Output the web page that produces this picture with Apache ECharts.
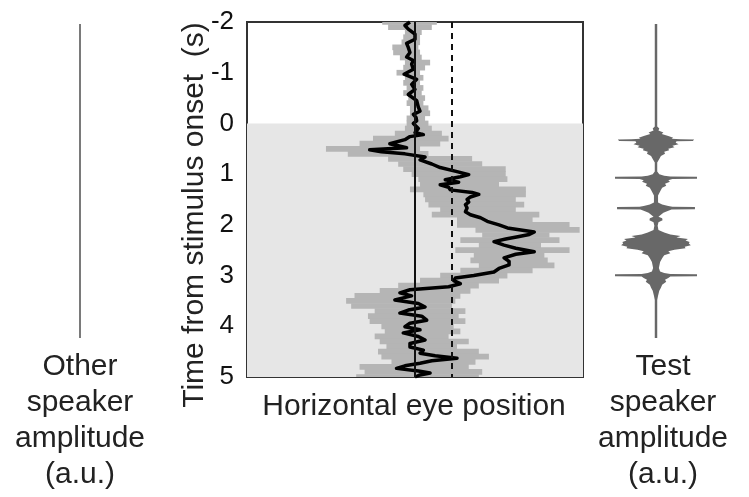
<!DOCTYPE html>
<html>
<head>
<meta charset="utf-8">
<script src="https://cdn.jsdelivr.net/npm/echarts@6/dist/echarts.min.js"></script>
<style>
  html, body { margin: 0; padding: 0; background: #fff; }
  #chart { width: 749px; height: 497px; }
</style>
</head>
<body>
<div id="chart"></div>
<script>
// time axis (s), ticks -2..5
const yTicks = [-2, -1, 0, 1, 2, 3, 4, 5];
const stimulusOnset = 0;
const centerX = 0;    // straight ahead
const speakerX = 2.2; // test speaker position

// mean eye trace
const traceTime = [-2.00, -1.93, -1.86, -1.76, -1.66, -1.58, -1.50, -1.40, -1.31, -1.24, -1.17, -1.07, -0.97, -0.87, -0.77, -0.67, -0.57, -0.45, -0.32, -0.24, -0.18, -0.12, -0.05, 0.00,
  0.10, 0.18, 0.22, 0.26, 0.32, 0.40, 0.48, 0.52, 0.56, 0.60, 0.66, 0.72, 0.80, 0.87, 0.95, 1.01, 1.05, 1.11, 1.16, 1.21, 1.26, 1.31, 1.36, 1.40, 1.45, 1.50, 1.55, 1.60, 1.67, 1.74, 1.80, 1.86, 1.93,
  2.00, 2.06, 2.14, 2.19, 2.23, 2.28, 2.33, 2.40, 2.46, 2.53, 2.58, 2.65, 2.72, 2.79, 2.86, 2.93, 3.00, 3.05, 3.10, 3.16, 3.22, 3.28, 3.34, 3.40, 3.48, 3.55, 3.62, 3.68, 3.74, 3.80, 3.88, 3.94,
  4.01, 4.07, 4.13, 4.20, 4.27, 4.34, 4.41, 4.47, 4.53, 4.58, 4.63, 4.68, 4.73, 4.78, 4.83, 4.88, 4.92, 4.96, 5.00];
const traceX = [-0.3, -0.6, -0.4, 0.0, 0.0, -0.5, -0.4, -0.3, -0.5, -0.1, -0.2, -0.1, -0.65, 0.1, -0.2, 0.0, -0.4, 0.1, 0.2, 0.3, -0.1, 0.06, 0.1, -0.1,
  0.2, 0.0, 0.5, -0.3, -0.6, -1.5, -0.5, -2.7, -2.0, -0.6, 0.6, 0.3, 1.0, 1.5, 2.5, 3.2, 2.7, 1.8, 2.6, 1.5, 2.0, 2.1, 3.4, 3.8, 3.3, 3.1, 3.2, 3.0, 3.1, 3.0, 3.3, 3.9, 4.3,
  5.0, 5.5, 7.1, 6.8, 6.2, 5.4, 4.7, 5.3, 6.0, 7.1, 6.0, 5.3, 5.6, 5.6, 5.0, 4.7, 3.5, 2.4, 2.3, 2.7, 2.0, -0.3, -0.9, -0.2, -1.2, 0.2, 0.6, -0.4, -0.9, 0.4, 0.7, -0.3,
  -0.6, 0.3, -0.7, 0.2, 0.6, -0.3, -0.3, 0.5, 0.3, 1.2, 2.5, 1.0, 0.3, -0.6, -1.1, 0.2, 0.9, 0.3, 0.0];

// variability band (lower / upper edge), 0.1 s bins
const bandTime = [-2.0, -1.9, -1.8, -1.7, -1.6, -1.5, -1.4, -1.3, -1.2, -1.1, -1.0, -0.9, -0.8, -0.7, -0.6, -0.5, -0.4, -0.3, -0.2, -0.1,
  0.0, 0.1, 0.2, 0.3, 0.4, 0.5, 0.6, 0.7, 0.8, 0.9, 1.0, 1.1, 1.2, 1.3, 1.4, 1.5, 1.6, 1.7, 1.8, 1.9,
  2.0, 2.1, 2.2, 2.3, 2.4, 2.5, 2.6, 2.7, 2.8, 2.9, 3.0, 3.1, 3.2, 3.3, 3.4, 3.5, 3.6, 3.7, 3.8, 3.9,
  4.0, 4.1, 4.2, 4.3, 4.4, 4.5, 4.6, 4.7, 4.8, 4.9, 5.0];
const bandLo = [-1.95, -1.6, -0.6, -0.7, -0.8, -1.35, -1.3, -0.9, -0.6, -0.7, -1.1, -0.6, -0.7, -0.5, -0.7, -0.4, -0.5, -0.3, -0.3, -0.5,
  -0.5, -0.6, -1.2, -2.5, -3.3, -5.3, -4.0, -1.6, -1.0, -0.7, -0.2, 0.2, 0.3, -0.3, 0.5, 0.6, 0.8, 1.5, 1.0, 2.5,
  2.5, 3.6, 4.0, 2.7, 3.8, 2.4, 3.5, 3.3, 3.8, 2.7, 1.5, 0.3, -1.0, -2.1, -3.6, -4.1, -3.8, -2.4, -2.8, -2.7,
  -2.0, -1.8, -2.4, -2.1, -1.7, -2.2, -2.0, -1.4, -3.3, -3.0, -3.5];
const bandHi = [1.3, 1.0, 0.4, 0.3, 0.3, 0.2, 0.3, 0.4, 0.9, 0.6, 0.3, 0.5, 0.3, 0.5, 0.4, 0.6, 0.5, 0.8, 0.9, 0.6,
  0.8, 1.0, 1.6, 2.0, 1.5, 0.3, 0.8, 3.4, 4.0, 5.4, 5.4, 5.5, 5.0, 6.6, 6.6, 6.0, 6.5, 6.0, 7.4, 7.0,
  9.2, 9.8, 8.0, 8.6, 7.5, 9.2, 7.7, 7.9, 8.3, 7.0, 5.5, 5.0, 3.8, 3.3, 2.7, 2.4, 2.2, 3.0, 2.6, 3.0,
  2.3, 2.7, 2.0, 3.2, 2.5, 3.8, 4.4, 3.6, 3.2, 4.0, 3.8];

// other speaker: silent
const otherTime = [-1.96, 4.23];
const otherAmp = [0, 0];

// test speaker envelope (a.u.)
const waveTime = [-1.96,
  0.06, 0.10, 0.14, 0.18, 0.21, 0.25, 0.28, 0.30, 0.31, 0.315, 0.345, 0.35, 0.38, 0.41, 0.44, 0.47, 0.50, 0.53, 0.56, 0.60, 0.64, 0.70, 0.77,
  0.95, 1.00, 1.03, 1.045, 1.05, 1.09, 1.095, 1.12, 1.15, 1.19, 1.23, 1.27, 1.34, 1.42,
  1.56, 1.60, 1.63, 1.645, 1.65, 1.69, 1.695, 1.72, 1.76, 1.80, 1.84, 1.87, 1.91, 1.95, 2.02,
  2.10, 2.15, 2.19, 2.22, 2.25, 2.28, 2.31, 2.34, 2.37, 2.40, 2.43, 2.46, 2.49, 2.52, 2.56, 2.60, 2.66, 2.73, 2.85,
  2.92, 2.95, 2.97, 2.975, 3.015, 3.02, 3.05, 3.08, 3.12, 3.18, 3.24, 3.30, 3.40, 3.48, 4.23];
const waveAmp = [0.03,
  0.03, 0.08, 0.06, 0.18, 0.14, 0.3, 0.42, 0.38, 0.6, 0.93, 0.9, 0.5, 0.48, 0.55, 0.4, 0.45, 0.3, 0.32, 0.2, 0.22, 0.12, 0.08, 0.03,
  0.03, 0.08, 0.2, 0.35, 1.0, 1.0, 0.4, 0.3, 0.34, 0.22, 0.25, 0.15, 0.1, 0.05,
  0.05, 0.15, 0.3, 0.4, 0.95, 0.95, 0.38, 0.3, 0.18, 0.12, 0.06, 0.15, 0.16, 0.06, 0.04,
  0.06, 0.2, 0.35, 0.6, 0.5, 0.78, 0.72, 0.82, 0.8, 0.85, 0.7, 0.72, 0.45, 0.3, 0.35, 0.2, 0.15, 0.1, 0.07,
  0.1, 0.2, 0.35, 1.0, 1.0, 0.35, 0.3, 0.22, 0.25, 0.15, 0.12, 0.08, 0.05, 0.03, 0.03];

const font = "'Liberation Sans', Arial, sans-serif";
const chart = echarts.init(document.getElementById('chart'));

const timeAxis = (gridIndex, show) => ({
  type: 'value', gridIndex: gridIndex, inverse: true, min: -2, max: 5, interval: 1,
  show: show,
  axisLine: { show: false },
  axisTick: { show: show, inside: true, length: 5, lineStyle: { color: '#333', width: 1.5 } },
  axisLabel: { show: show, fontSize: 26, color: '#111', margin: 13, fontFamily: font },
  splitLine: { show: false }
});
const hiddenX = (gridIndex, lo, hi) => ({
  type: 'value', gridIndex: gridIndex, min: lo, max: hi, show: false, splitLine: { show: false }
});

const option = {
  animation: false,
  backgroundColor: '#fff',
  grid: [
    { left: 247, top: 22, width: 336, height: 355, show: true, borderColor: '#333', borderWidth: 2, backgroundColor: '#fff' },
    { left: 60, top: 22, width: 40, height: 355 },
    { left: 615, top: 22, width: 82, height: 355 }
  ],
  xAxis: [hiddenX(0, -10, 10), hiddenX(1, -1, 1), hiddenX(2, -1, 1)],
  yAxis: [timeAxis(0, true), timeAxis(1, false), timeAxis(2, false)],
  series: [
    {
      // post-onset shading
      type: 'line', xAxisIndex: 0, yAxisIndex: 0, data: [], z: 1,
      markArea: {
        silent: true,
        itemStyle: { color: '#e6e6e6' },
        data: [[{ yAxis: stimulusOnset }, { yAxis: yTicks[yTicks.length - 1] }]]
      }
    },
    {
      type: 'custom', xAxisIndex: 0, yAxisIndex: 0, z: 2, clip: true,
      data: bandTime.map((t, i) => [t, bandLo[i], bandHi[i]]),
      encode: { x: [1, 2], y: 0 },
      renderItem: function (params, api) {
        const t = api.value(0);
        const p1 = api.coord([api.value(1), t - 0.056]);
        const p2 = api.coord([api.value(2), t + 0.056]);
        return {
          type: 'rect',
          shape: {
            x: Math.min(p1[0], p2[0]), y: Math.min(p1[1], p2[1]),
            width: Math.abs(p2[0] - p1[0]), height: Math.abs(p2[1] - p1[1])
          },
          style: { fill: '#b5b5b5' }
        };
      }
    },
    {
      type: 'line', xAxisIndex: 0, yAxisIndex: 0, z: 4,
      data: traceTime.map((t, i) => [traceX[i], t]),
      showSymbol: false,
      lineStyle: { color: '#000', width: 3.5, join: 'round' },
      markLine: {
        silent: true, symbol: 'none', label: { show: false },
        data: [
          { xAxis: centerX, lineStyle: { color: '#111', width: 2, type: 'solid' } },
          { xAxis: speakerX, lineStyle: { color: '#111', width: 2, type: [6, 5] } }
        ]
      }
    },
    {
      type: 'line', xAxisIndex: 1, yAxisIndex: 1,
      data: otherTime.map((t, i) => [otherAmp[i], t]),
      showSymbol: false,
      lineStyle: { color: '#7a7a7a', width: 2 }
    },
    {
      type: 'custom', xAxisIndex: 2, yAxisIndex: 2,
      data: [0],
      renderItem: function (params, api) {
        const right = waveTime.map((t, i) => api.coord([waveAmp[i], t]));
        const left = waveTime.map((t, i) => api.coord([-waveAmp[i], t])).reverse();
        return {
          type: 'polygon',
          shape: { points: right.concat(left) },
          style: { fill: '#686868' }
        };
      }
    }
  ],
  graphic: [
    {
      type: 'text', x: 195, y: 215, rotation: Math.PI / 2,
      style: { text: 'Time from stimulus onset  (s)', font: '30px ' + font, fill: '#222', textAlign: 'center', textVerticalAlign: 'middle' }
    },
    {
      type: 'text', x: 414, y: 407,
      style: { text: 'Horizontal eye position', font: '30px ' + font, fill: '#222', textAlign: 'center', textVerticalAlign: 'middle' }
    },
    {
      type: 'text', x: 80, y: 349,
      style: { text: 'Other\nspeaker\namplitude\n(a.u.)', font: '30px ' + font, lineHeight: 36, fill: '#222', textAlign: 'center', textVerticalAlign: 'top' }
    },
    {
      type: 'text', x: 663, y: 349,
      style: { text: 'Test\nspeaker\namplitude\n(a.u.)', font: '30px ' + font, lineHeight: 36, fill: '#222', textAlign: 'center', textVerticalAlign: 'top' }
    }
  ]
};
chart.setOption(option);
</script>
</body>
</html>
